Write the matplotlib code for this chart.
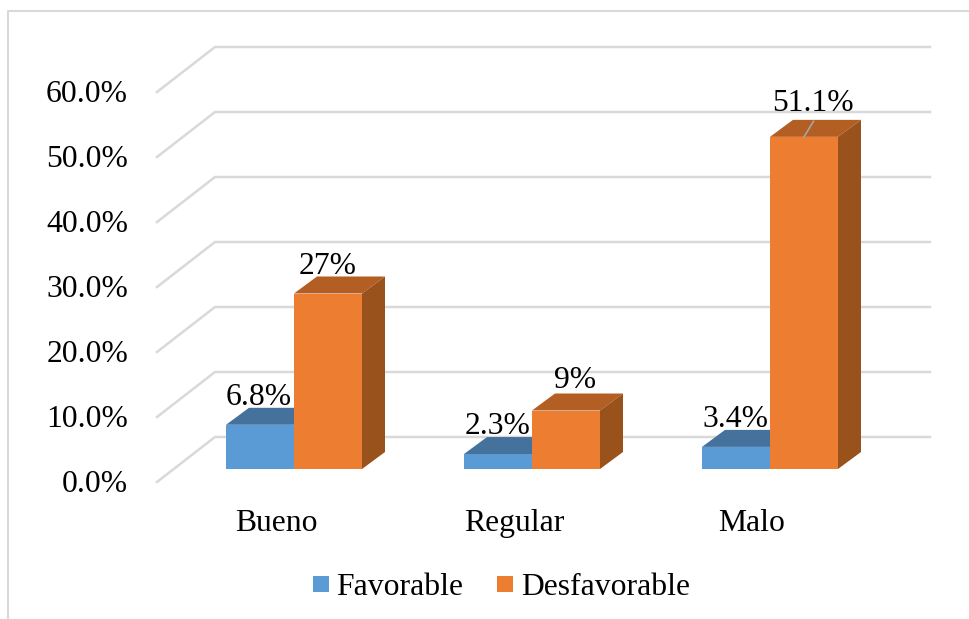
"""Recreate the 3D-look clustered bar chart of Favorable / Desfavorable."""

import matplotlib

matplotlib.use("Agg")
import matplotlib.pyplot as plt
from matplotlib.patches import Polygon, Rectangle

categories = ["Bueno", "Regular", "Malo"]
favorable = [6.8, 2.3, 3.4]
desfavorable = [27.0, 9.0, 51.1]
favorable_labels = ["6.8%", "2.3%", "3.4%"]
desfavorable_labels = ["27%", "9%", "51.1%"]
y_ticks = [0, 10, 20, 30, 40, 50, 60]
y_tick_labels = ["0.0%", "10.0%", "20.0%", "30.0%", "40.0%", "50.0%", "60.0%"]

WIDTH, HEIGHT = 970, 619
PX_X = 238.0  # pixels per category
PX_Y = 6.5  # pixels per percent
ORIGIN_X, ORIGIN_Y = 294.0, 469.0

BAR_W = 68 / PX_X
DEPTH_X, DEPTH_Y = 23 / PX_X, 17 / PX_Y
WALL_DX, WALL_DY = 58 / PX_X, 45 / PX_Y
WALL_RISE = 32 / PX_Y
FONT = 22.8

# label nudges in pixels (right, down), tuned by eye
FAV_NUDGE = [(3, 5), (4, 5), (4, 5)]
DES_NUDGE = [(-9, 0), (0, -3), (0, -6)]
CAT_NUDGE = [-1, -1, 5]
TICK_LABEL_DROP = 2.5

plt.rcParams["font.family"] = ["Liberation Serif", "DejaVu Serif"]
fig = plt.figure(figsize=(WIDTH / 100, HEIGHT / 100), dpi=100)
ax = fig.add_axes([0, 0, 1, 1])
ax.set_xlim(-ORIGIN_X / PX_X, (WIDTH - ORIGIN_X) / PX_X)
ax.set_ylim(-(HEIGHT - ORIGIN_Y) / PX_Y, ORIGIN_Y / PX_Y)
ax.axis("off")


def px_x(px):
    return (px - ORIGIN_X) / PX_X


def px_y(px):
    return (ORIGIN_Y - px) / PX_Y


# chart frame
ax.plot([px_x(8), px_x(8), px_x(968)], [px_y(619), px_y(11), px_y(11)], color="#d9d9d9", lw=1.5)

# back wall gridlines and floor diagonals
wall_x = px_x(215)
for tick, label in zip(y_ticks, y_tick_labels):
    wall_y = tick + WALL_RISE
    ax.plot([wall_x - WALL_DX, wall_x, px_x(930)], [wall_y - WALL_DY, wall_y, wall_y],
            color="#d9d9d9", lw=1.8, zorder=1, solid_joinstyle="miter")
    ax.text(px_x(128), wall_y - WALL_DY - TICK_LABEL_DROP / PX_Y, label, ha="right", va="center",
            fontsize=FONT, color="black")


def draw_bar(x_left, value, front, top, side):
    ax.add_patch(Polygon([(x_left, value), (x_left + DEPTH_X, value + DEPTH_Y),
                          (x_left + BAR_W + DEPTH_X, value + DEPTH_Y), (x_left + BAR_W, value)],
                         facecolor=top, edgecolor="none", zorder=3))
    ax.add_patch(Polygon([(x_left + BAR_W, 0), (x_left + BAR_W + DEPTH_X, DEPTH_Y),
                          (x_left + BAR_W + DEPTH_X, value + DEPTH_Y), (x_left + BAR_W, value)],
                         facecolor=side, edgecolor="none", zorder=3))
    ax.add_patch(Rectangle((x_left, 0), BAR_W, value, facecolor=front, edgecolor="none", zorder=4))


for i, cat in enumerate(categories):
    draw_bar(i - BAR_W, favorable[i], "#5b9bd5", "#44729d", "#44729d")
    draw_bar(i, desfavorable[i], "#ed7d31", "#b35e23", "#9a521d")
    ax.text(i - BAR_W / 2 - 0.02 + FAV_NUDGE[i][0] / PX_X, favorable[i] + 2.7 - FAV_NUDGE[i][1] / PX_Y,
            favorable_labels[i], ha="center", va="bottom", fontsize=FONT, zorder=5)
    ax.text(i + BAR_W / 2 + DEPTH_X / 2 - 0.01 + DES_NUDGE[i][0] / PX_X, desfavorable[i] + 2.0 - DES_NUDGE[i][1] / PX_Y,
            desfavorable_labels[i], ha="center", va="bottom", fontsize=FONT, zorder=5)
    ax.text(i - 0.07 + (0.0 if i < 2 else -0.03) + CAT_NUDGE[i] / PX_X, px_y(531), cat,
            ha="center", va="baseline", fontsize=FONT)

# leader line on the tallest label
ax.plot([2 + BAR_W / 2, 2 + BAR_W / 2 + 0.04], [desfavorable[2], desfavorable[2] + 2.4], color="#a6a6a6", lw=1.2, zorder=5)

# legend
for x_px, text_px, name, color in [(313, 336, "Favorable", "#5b9bd5"), (497, 521, "Desfavorable", "#ed7d31")]:
    ax.add_patch(Rectangle((px_x(x_px), px_y(592)), 16 / PX_X, 16 / PX_Y, facecolor=color, edgecolor="none"))
    ax.text(px_x(text_px), px_y(595), name, ha="left", va="baseline", fontsize=FONT)

fig.savefig("out.png", dpi=100)
plt.close(fig)
